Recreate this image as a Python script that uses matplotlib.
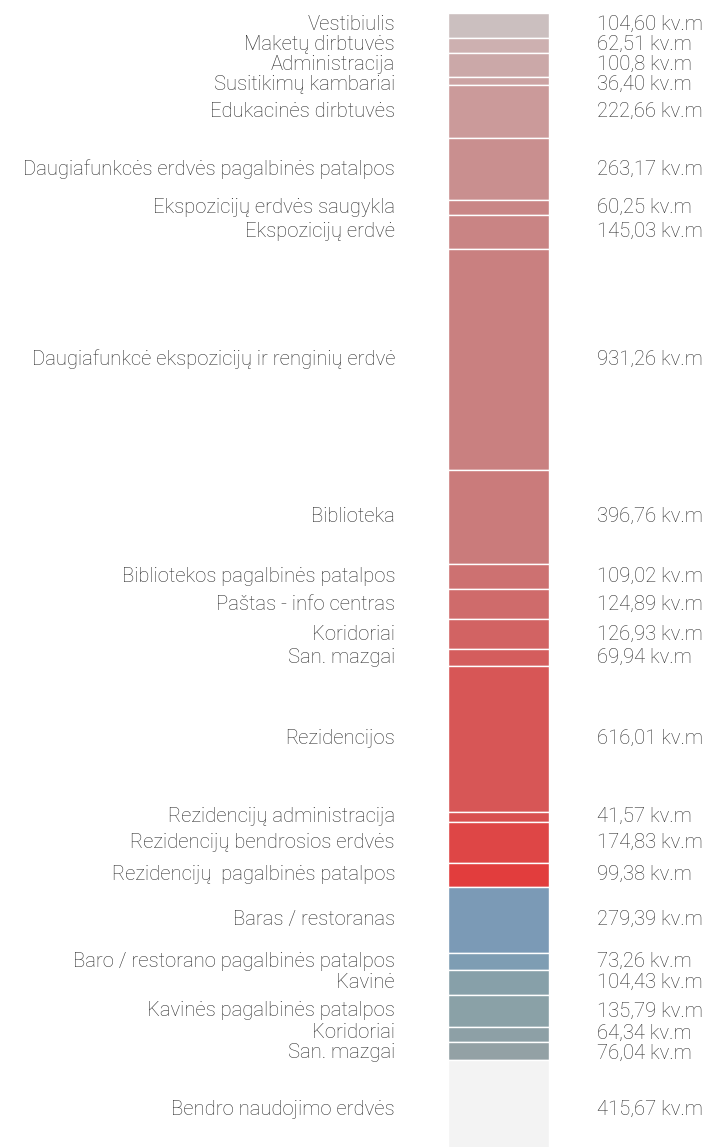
import numpy as np
import matplotlib.pyplot as plt

plt.rcParams['font.family'] = ['Roboto', 'DejaVu Sans']

# Patalpų programa: pavadinimai, plotai (kv.m) ir spalvos
names = [
    "Vestibiulis",
    "Maketų dirbtuvės",
    "Administracija",
    "Susitikimų kambariai",
    "Edukacinės dirbtuvės",
    "Daugiafunkcės erdvės pagalbinės patalpos",
    "Ekspozicijų erdvės saugykla",
    "Ekspozicijų erdvė",
    "Daugiafunkcė ekspozicijų ir renginių erdvė",
    "Biblioteka",
    "Bibliotekos pagalbinės patalpos",
    "Paštas - info centras",
    "Koridoriai",
    "San. mazgai",
    "Rezidencijos",
    "Rezidencijų administracija",
    "Rezidencijų bendrosios erdvės",
    "Rezidencijų  pagalbinės patalpos",
    "Baras / restoranas",
    "Baro / restorano pagalbinės patalpos",
    "Kavinė",
    "Kavinės pagalbinės patalpos",
    "Koridoriai",
    "San. mazgai",
    "Bendro naudojimo erdvės",
]
areas = [104.60, 62.51, 100.8, 36.40, 222.66, 263.17, 60.25, 145.03, 931.26,
         396.76, 109.02, 124.89, 126.93, 69.94, 616.01, 41.57, 174.83, 99.38,
         279.39, 73.26, 104.43, 135.79, 64.34, 76.04, 415.67]
area_labels = ["104,60", "62,51", "100,8", "36,40", "222,66", "263,17", "60,25",
               "145,03", "931,26", "396,76", "109,02", "124,89", "126,93", "69,94",
               "616,01", "41,57", "174,83", "99,38", "279,39", "73,26", "104,43",
               "135,79", "64,34", "76,04", "415,67"]
colors = ["#cbbfbf", "#cdb0b0", "#cba8a8", "#cca3a3", "#cb9a9a", "#c98f8f",
          "#c98686", "#c98484", "#c98080", "#ca7b7b", "#cd7171", "#cf6b6b",
          "#d26363", "#d45d5d", "#d75656", "#d85050", "#de4646", "#e23d3d",
          "#7b9ab6", "#7e9db3", "#87a0a9", "#8aa1a7", "#8da0a6", "#93a1a5",
          "#f3f3f3"]

areas = np.array(areas)
bottoms = np.concatenate([[0], np.cumsum(areas)[:-1]])
centers = bottoms + areas / 2


def spread(pos, gap, n_iter=300):
    """Push label positions apart so neighbours are at least `gap` apart."""
    pos = np.array(pos, dtype=float)
    for _ in range(n_iter):
        moved = False
        for i in range(len(pos) - 1):
            d = pos[i + 1] - pos[i]
            if d < gap - 1e-6:
                shift = (gap - d) / 2
                pos[i] -= shift
                pos[i + 1] += shift
                moved = True
        if not moved:
            break
    return pos


fig = plt.figure(figsize=(7.10, 11.47), dpi=100)
ax = fig.add_axes([0, 0, 1, 1])
y_top, y_bot = -55, 4785
ax.set_xlim(0, 710)
ax.set_ylim(y_bot, y_top)
ax.axis('off')

ax.bar(498.5, areas, width=101, bottom=bottoms, color=colors,
       edgecolor='white', linewidth=1.0)

# keep ~20 px between text rows, in data units
px_per_unit = 1147 / (y_bot - y_top)
label_y = spread(centers, 20 / px_per_unit)
label_y = np.maximum(label_y, y_top + 12 / px_per_unit)

txt = dict(fontsize=14.6, color='#2e2e2e', va='center', fontweight='light')
for name, lab, c in zip(names, area_labels, label_y):
    ax.text(395, c, name, ha='right', **txt)
    ax.text(597, c, f"{lab} kv.m", ha='left', **txt)

fig.savefig('out.png', dpi=100)
